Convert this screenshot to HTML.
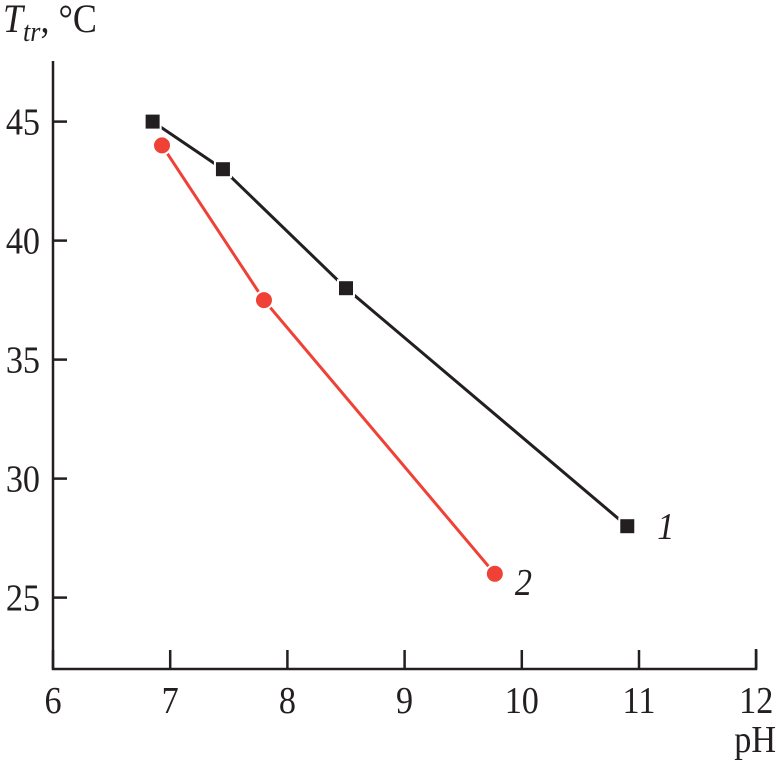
<!DOCTYPE html>
<html><head><meta charset="utf-8"><style>
body{margin:0;background:#fff}
svg text{font-family:"Liberation Serif",serif;fill:#231f20}
</style></head><body>
<svg width="776" height="776" viewBox="0 0 776 776">
<g id="axes"></g>
<g id="marks"></g>
<text transform="translate(3,32) scale(0.9,1)" font-size="40" font-style="italic">T<tspan font-size="29" dy="9">tr</tspan><tspan dy="-9" font-style="normal">, °C</tspan></text>
<text transform="translate(776,752) scale(0.9,1)" font-size="38" text-anchor="end">pH</text>
</svg>
<script>
const xTicks=[6,7,8,9,10,11,12];
const yTicks=[25,30,35,40,45];
const s1x=[6.85,7.45,8.5,10.9];
const s1y=[45,43,38,28];
const s2x=[6.93,7.8,9.77];
const s2y=[44,37.5,26];
const X=v=>53+(v-6)*117.2;
const Y=v=>669-(v-22)*23.8;
const NS='http://www.w3.org/2000/svg';
function mk(t,a,p){const e=document.createElementNS(NS,t);for(const k in a)e.setAttribute(k,a[k]);p.appendChild(e);return e;}
const ax=document.getElementById('axes'),mg=document.getElementById('marks');
let e=mk('path',{d:'M53,61V669H756V649',fill:'none',stroke:'#231f20','stroke-width':2.5},ax);


xTicks.forEach(v=>{
 let t=mk('line',{x1:X(v),x2:X(v),y1:669,y2:650,stroke:'#231f20','stroke-width':2.5},ax);
 
 
 let l=mk('text',{transform:'translate('+X(v)+',713) scale(0.9,1)','font-size':38,'text-anchor':'middle'},ax);l.textContent=v;
 
 
});
yTicks.forEach(v=>{
 let t=mk('line',{x1:53,x2:67,y1:Y(v),y2:Y(v),stroke:'#231f20','stroke-width':2.5},ax);
 
 
 let l=mk('text',{transform:'translate(40,'+(Y(v)+13)+') scale(0.9,1)','font-size':38,'text-anchor':'end'},ax);l.textContent=v;
 
 
});
let p1=mk('polyline',{points:s1x.map((x,i)=>X(x)+','+Y(s1y[i])).join(' '),fill:'none',stroke:'#231f20','stroke-width':3},mg);


let p2=mk('polyline',{points:s2x.map((x,i)=>X(x)+','+Y(s2y[i])).join(' '),fill:'none',stroke:'#ef4136','stroke-width':3},mg);


s1x.forEach((x,i)=>{
 let r=mk('rect',{x:X(x)-8,y:Y(s1y[i])-8,width:16,height:16,fill:'#231f20',stroke:'#fff','stroke-width':2},mg);
 
 
});
s2x.forEach((x,i)=>{
 let c=mk('circle',{cx:X(x),cy:Y(s2y[i]),r:9,fill:'#ef4136',stroke:'#fff','stroke-width':2},mg);
 
 
});
let l1=mk('text',{transform:'translate('+(X(s1x[3])+30)+','+(Y(s1y[3])+13)+') scale(0.9,1)','font-size':38,'font-style':'italic'},mg);l1.textContent='1';


let l2=mk('text',{transform:'translate('+(X(s2x[2])+20)+','+(Y(s2y[2])+21)+') scale(0.9,1)','font-size':38,'font-style':'italic'},mg);l2.textContent='2';


</script>
</body></html>
